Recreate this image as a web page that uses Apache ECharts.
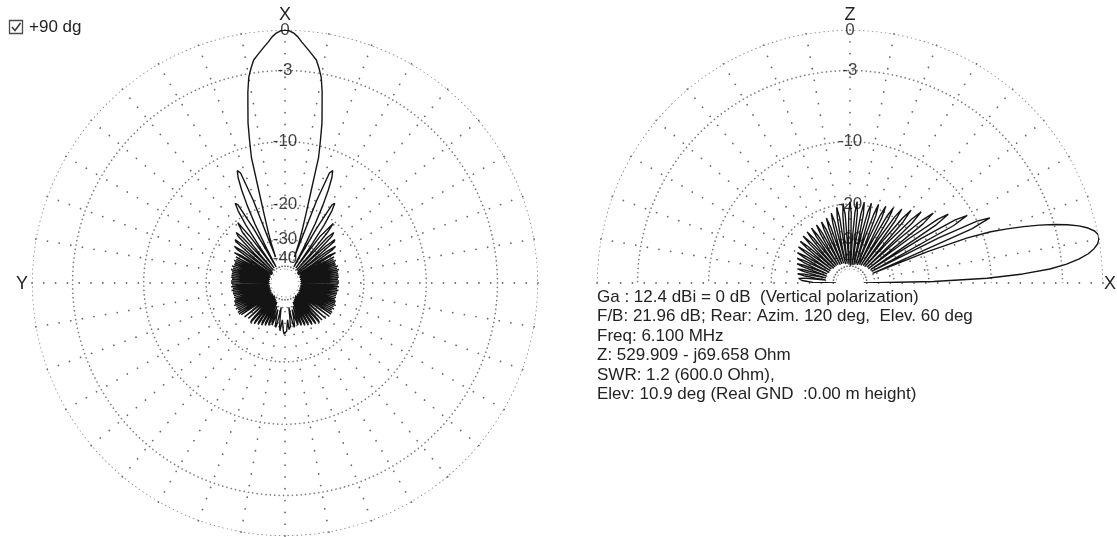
<!DOCTYPE html>
<html>
<head>
<meta charset="utf-8">
<script src="https://cdn.jsdelivr.net/npm/echarts@6/dist/echarts.min.js"></script>
<style>
  html, body { margin: 0; padding: 0; background: #ffffff; }
  #chart { width: 1117px; height: 537px; }
</style>
</head>
<body>
<div id="chart"></div>
<script>
// Ring levels of the dB grid and their printed labels
const ringDb = [0, -3, -10, -20, -30, -40, -50];
const ringLabels = ['0', '-3', '-10', '-20', '-30', '-40', ''];

// Horizontal (azimuth) pattern, dB relative to maximum, one value per degree 0..359
const azimuthDb = [
  0, -0.05, -0.2, -0.45, -0.8, -1.1, -1.4, -1.7, -2.0, -2.6,
  -3.3, -4.5, -6.0, -7.4, -9.4, -11.5, -17.5, -22, -26, -30,
  -38, -18, -13, -12.5, -13.5, -15.5, -18.5, -23, -32, -45,
  -24, -17.5, -17, -18.5, -22, -30, -45, -25, -20.5, -20.5,
  -23, -32, -46, -24, -22, -23, -30, -46, -26, -23,
  -24, -32, -48, -27, -24, -25.5, -35, -48, -27, -25,
  -33, -46, -26, -44, -26.5, -47, -26, -45, -26.5, -48,
  -26.5, -44, -26, -47, -26.5, -45, -26, -48, -26.5, -44,
  -26.5, -47, -26.5, -45, -26.5, -48, -26.8, -44, -26.5, -47,
  -26.5, -45, -26.8, -48, -26.5, -44, -27, -47, -26.5, -45,
  -27, -48, -26.8, -44, -27, -47, -26.8, -45, -27, -48,
  -26.5, -44, -26.5, -47, -26, -45, -26.5, -48, -26, -44,
  -26.5, -46, -26, -44, -26, -47, -26.5, -26, -35, -46,
  -27, -26.5, -36, -47, -27.5, -27, -37, -46, -28, -27,
  -35, -47, -28.5, -27.5, -36, -46, -29, -28, -37, -45,
  -29.5, -28.5, -36, -44, -30, -29, -35, -43, -30.5, -29.5,
  -34, -40, -31, -30, -33, -38, -34, -31, -29.5, -31,
  -36, -40, -34, -30, -28.5, -29, -33, -31, -28.5, -27.5,
  -27.3,
  -27.5, -28.5, -31, -33, -29, -28.5, -30, -34, -40, -36,
  -31, -29.5, -31, -34, -38, -33, -30, -31, -40, -34,
  -29.5, -30.5, -43, -35, -29, -30, -44, -36, -28.5, -29.5,
  -45, -37, -28, -29, -46, -36, -27.5, -28.5, -47, -35,
  -27, -28, -46, -37, -27, -27.5, -47, -36, -26.5, -27,
  -46, -35, -26, -26.5, -47, -26, -44, -26, -46, -26.5,
  -44, -26, -48, -26.5, -45, -26, -47, -26.5, -44, -26.5,
  -48, -27, -45, -26.8, -47, -27, -44, -26.8, -48, -27,
  -45, -26.5, -47, -27, -44, -26.5, -48, -26.8, -45, -26.5,
  -47, -26.5, -44, -26.8, -48, -26.5, -45, -26.5, -47, -26.5,
  -44, -26.5, -48, -26, -45, -26.5, -47, -26, -44, -26.5,
  -48, -26.5, -45, -26, -47, -26.5, -44, -26, -46, -33,
  -25, -27, -48, -35, -25.5, -24, -27, -48, -32, -24,
  -23, -26, -46, -30, -23, -22, -24, -46, -32, -23,
  -20.5, -20.5, -25, -45, -30, -22, -18.5, -17, -17.5, -24,
  -45, -32, -23, -18.5, -15.5, -13.5, -12.5, -13, -18, -38,
  -30, -26, -22, -17.5, -11.5, -9.4, -7.4, -6.0, -4.5, -3.3,
  -2.6, -2.0, -1.7, -1.4, -1.1, -0.8, -0.45, -0.2, -0.05
];

// Vertical (elevation) pattern, dB relative to maximum, one value per degree 0..180
const elevationDb = [
  -50, -19, -10.5, -6.5, -4, -2.6, -1.6, -0.9, -0.45, -0.15,
  -0.02, 0, -0.2, -0.6, -1.2, -2.0, -3.0, -4.2, -5.6, -7.2,
  -9.0, -12, -19, -40, -11, -8.5, -10, -16, -40, -13,
  -10.8, -12.5, -19, -40, -15.5, -12.8, -14.5, -21, -41, -17,
  -14.5, -16.5, -23, -41, -18.5, -15.8, -18, -25, -42, -19.5,
  -16.8, -19, -26, -42, -20.5, -17.7, -20, -27, -43, -21,
  -18.4, -20.5, -28, -43, -21.5, -18.8, -21, -28, -44, -21.5,
  -19, -21.5, -29, -44, -22, -19.2, -21.5, -29, -45, -22,
  -19.3, -22, -30, -45, -22, -19.4, -22, -30, -46, -22,
  -19.5, -22, -30, -45, -22.5, -19.8, -22.5, -30, -44, -23,
  -20.5, -23, -31, -44, -24, -21.5, -24, -31, -43, -25,
  -22.3, -25, -32, -43, -25, -22.7, -25, -32, -43, -25.5,
  -22.8, -25.5, -32, -42, -25.5, -22.8, -25.5, -32, -42, -25.5,
  -22.9, -25.5, -32, -42, -26, -23, -26, -33, -42, -26,
  -23.4, -26, -33, -41, -26.5, -23.9, -26.5, -33, -41, -27,
  -24.5, -27, -33, -41, -27.5, -25.2, -27.5, -33, -40, -28,
  -25.8, -28, -34, -40, -28.5, -26.4, -28.5, -34, -40, -29,
  -26.8, -29, -34, -40, -29, -27.3, -28, -28.5, -29, -33,
  -50
];

const axisNames = { azimuthTop: 'X', azimuthLeft: 'Y', elevationTop: 'Z', elevationRight: 'X' };
const optionLabel = '+90 dg';
const infoLines = [
  'Ga : 12.4 dBi = 0 dB  (Vertical polarization)',
  'F/B: 21.96 dB; Rear: Azim. 120 deg,  Elev. 60 deg',
  'Freq: 6.100 MHz',
  'Z: 529.909 - j69.658 Ohm',
  'SWR: 1.2 (600.0 Ohm),',
  'Elev: 10.9 deg (Real GND  :0.00 m height)'
];

// ARRL-style log scale: every 2 dB shrinks the radius by a factor 0.89
const toRadius = db => Math.pow(0.89, -Math.max(db, -50) / 2);
const rMin = toRadius(-50);
const R = 253;
const FONT = 'Arial, "Liberation Sans", sans-serif';
const ringColor = '#7c7c7c';
const spokeColor = '#6a6a6a';
const traceColor = '#141414';

function ringSeries(polarIndex, maxAngle) {
  return ringDb.map(db => {
    const pts = [];
    for (let a = 0; a <= maxAngle; a += 1) pts.push([toRadius(db), a]);
    return {
      type: 'line', coordinateSystem: 'polar', polarIndex,
      data: pts, showSymbol: false, silent: true, z: 1,
      lineStyle: { color: ringColor, width: 1.7, type: [0.01, 4.4], cap: 'round' }
    };
  });
}

// dB values printed along the vertical spoke, centred on each ring
function labelSeries(polarIndex, angle) {
  return {
    type: 'scatter', coordinateSystem: 'polar', polarIndex,
    data: ringDb.map(db => [toRadius(db), angle]),
    symbolSize: 0, silent: true, z: 5,
    itemStyle: { color: '#111' },
    label: {
      show: true, position: [0, 0], align: 'center', verticalAlign: 'middle',
      formatter: p => ringLabels[p.dataIndex],
      fontFamily: FONT, fontSize: 17, color: '#111',
      textBorderWidth: 0
    }
  };
}

const spokeStyle = { color: spokeColor, width: 1.8, type: [0.01, 11.8], cap: 'round' };
const hiddenAxis = {
  axisLine: { show: false }, axisTick: { show: false }, axisLabel: { show: false }
};

const azimuthLine = azimuthDb.map((db, i) => [toRadius(db), i]);
azimuthLine.push([toRadius(azimuthDb[0]), 360]);
const elevationLine = elevationDb.map((db, i) => [toRadius(db), i]);

const textStyle = (text, x, y, size, align) => ({
  type: 'text', x, y, silent: true,
  style: { text, fill: '#232323', font: size + 'px ' + FONT, align: align || 'left', verticalAlign: 'middle' }
});

const chart = echarts.init(document.getElementById('chart'), null, { renderer: 'canvas' });
chart.setOption({
  animation: false,
  backgroundColor: '#ffffff',
  polar: [
    { center: [285, 283], radius: [R * rMin, R] },
    { center: [850, 283], radius: [R * rMin, R] }
  ],
  angleAxis: [
    Object.assign({ polarIndex: 0, type: 'value', min: 0, max: 360, interval: 10,
      startAngle: 90, clockwise: false,
      splitLine: { show: true, lineStyle: spokeStyle } }, hiddenAxis),
    Object.assign({ polarIndex: 1, type: 'value', min: 0, max: 180, interval: 10,
      startAngle: 0, endAngle: 180, clockwise: false,
      splitLine: { show: true, lineStyle: spokeStyle } }, hiddenAxis)
  ],
  radiusAxis: [
    Object.assign({ polarIndex: 0, type: 'value', min: rMin, max: 1, splitLine: { show: false } }, hiddenAxis),
    Object.assign({ polarIndex: 1, type: 'value', min: rMin, max: 1, splitLine: { show: false } }, hiddenAxis)
  ],
  series: [
    ...ringSeries(0, 360),
    ...ringSeries(1, 180),
    {
      type: 'line', coordinateSystem: 'polar', polarIndex: 0, data: azimuthLine,
      showSymbol: false, silent: true, z: 3,
      lineStyle: { color: traceColor, width: 1.4 }
    },
    {
      type: 'line', coordinateSystem: 'polar', polarIndex: 1, data: elevationLine,
      showSymbol: false, silent: true, z: 3,
      lineStyle: { color: traceColor, width: 1.4 }
    },
    labelSeries(0, 0),
    labelSeries(1, 90)
  ],
  graphic: [
    textStyle(axisNames.azimuthTop, 285, 15, 18, 'center'),
    textStyle(axisNames.azimuthLeft, 22, 284, 18, 'center'),
    textStyle(axisNames.elevationTop, 850, 15, 18, 'center'),
    textStyle(axisNames.elevationRight, 1110, 284, 18, 'center'),
    { type: 'rect', silent: true, shape: { x: 9.5, y: 20.5, width: 13, height: 13 },
      style: { fill: 'none', stroke: '#4a4a4a', lineWidth: 1.3 } },
    { type: 'polyline', silent: true, shape: { points: [[12, 27], [15, 30.5], [20.5, 23]] },
      style: { fill: 'none', stroke: '#3a3a3a', lineWidth: 1.6 } },
    textStyle(optionLabel, 29, 27, 17),
    ...infoLines.map((t, i) => textStyle(t, 597, 297 + i * 19.5, 17))
  ]
});
</script>
</body>
</html>
